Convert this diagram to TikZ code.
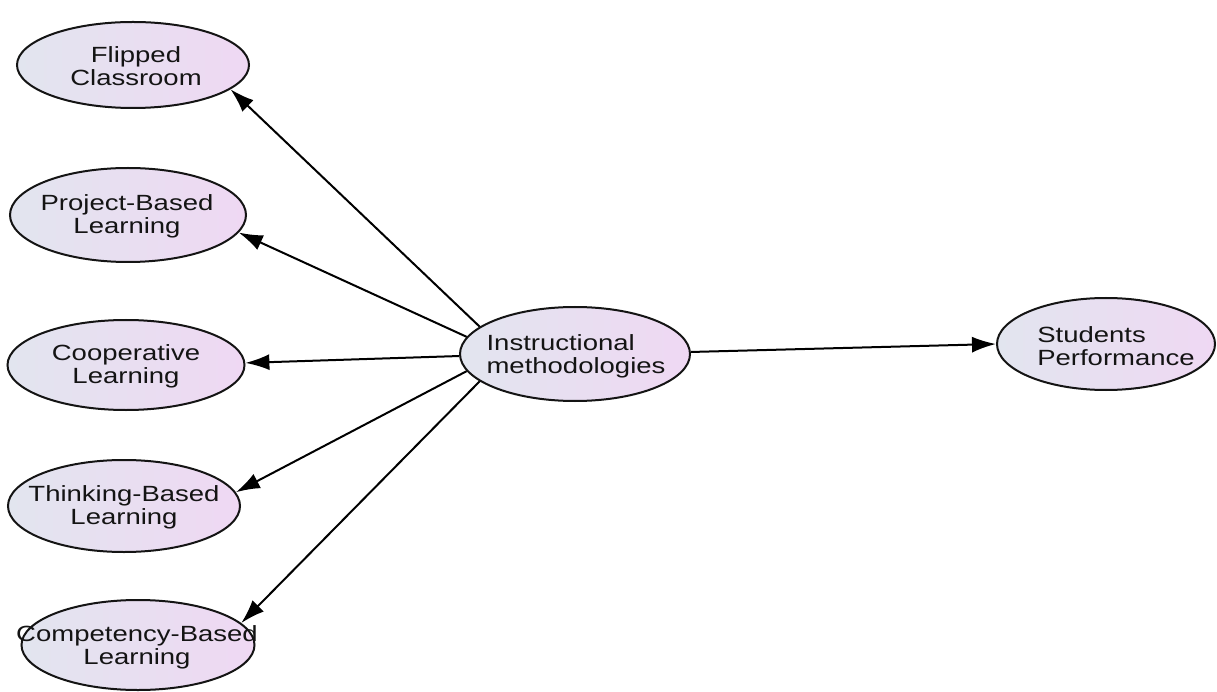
\documentclass[tikz,border=0pt]{standalone}
\usepackage{fontspec}
\setmainfont{Liberation Sans}[FakeStretch=1.25]
\usetikzlibrary{arrows.meta,shapes.geometric}
\definecolor{fillL}{HTML}{E2E5EF}
\definecolor{fillR}{HTML}{EFD8F3}
\definecolor{edge}{HTML}{141414}
\tikzset{
  ell/.style={ellipse, draw=edge, line width=2pt, left color=fillL, right color=fillR,
              inner sep=0pt, minimum width=#1},
  ell/.default={232pt},
  txt/.style={font=\fontsize{22}{23}\selectfont, align=center, text=black!92, inner sep=0pt},
  arr/.style={line width=2pt, draw=black, -{Latex[length=24pt,width=16pt]}}
}
\begin{document}
\begin{tikzpicture}[x=1pt,y=-1pt]
\useasboundingbox (0,0) rectangle (1217,692);
% ellipses
\node[ell=232pt, minimum height=86pt] (fc) at (133,65) {};
\node[ell=236pt, minimum height=94pt] (pb) at (128,215) {};
\node[ell=237pt, minimum height=90pt] (cl) at (126,365) {};
\node[ell=232pt, minimum height=92pt] (tb) at (124,506) {};
\node[ell=233pt, minimum height=90pt] (cb) at (138,645) {};
\node[ell=230pt, minimum height=94pt] (im) at (575,354) {};
\node[ell=218pt, minimum height=92pt] (sp) at (1106,344) {};
% texts
\node[txt] (fct) at (136,66) {Flipped\\Classroom};
\node[txt] (pbt) at (127,216) {Project-Based\\Learning};
\node[txt] (clt) at (126,366) {Cooperative\\Learning};
\node[txt] (tbt) at (124,507) {Thinking-Based\\Learning};
\node[txt] (cbt) at (137,647) {Competency-Based\\Learning};
\node[txt, align=left] (imt) at (576,356) {Instructional\\methodologies};
\node[txt, align=left] (spt) at (1116,346) {Students\\Performance};
% arrows
\draw[arr] (im.164) -- (fc.-14.5);
\draw[arr] (im.171.7) -- (pb.-9);
\draw[arr] (im.181.5) -- (cl.1);
\draw[arr] (im.189.3) -- (tb.7.2);
\draw[arr] (im.196.4) -- (cb.12.4);
\draw[arr] (im.1) -- (sp.180);
\end{tikzpicture}
\end{document}
